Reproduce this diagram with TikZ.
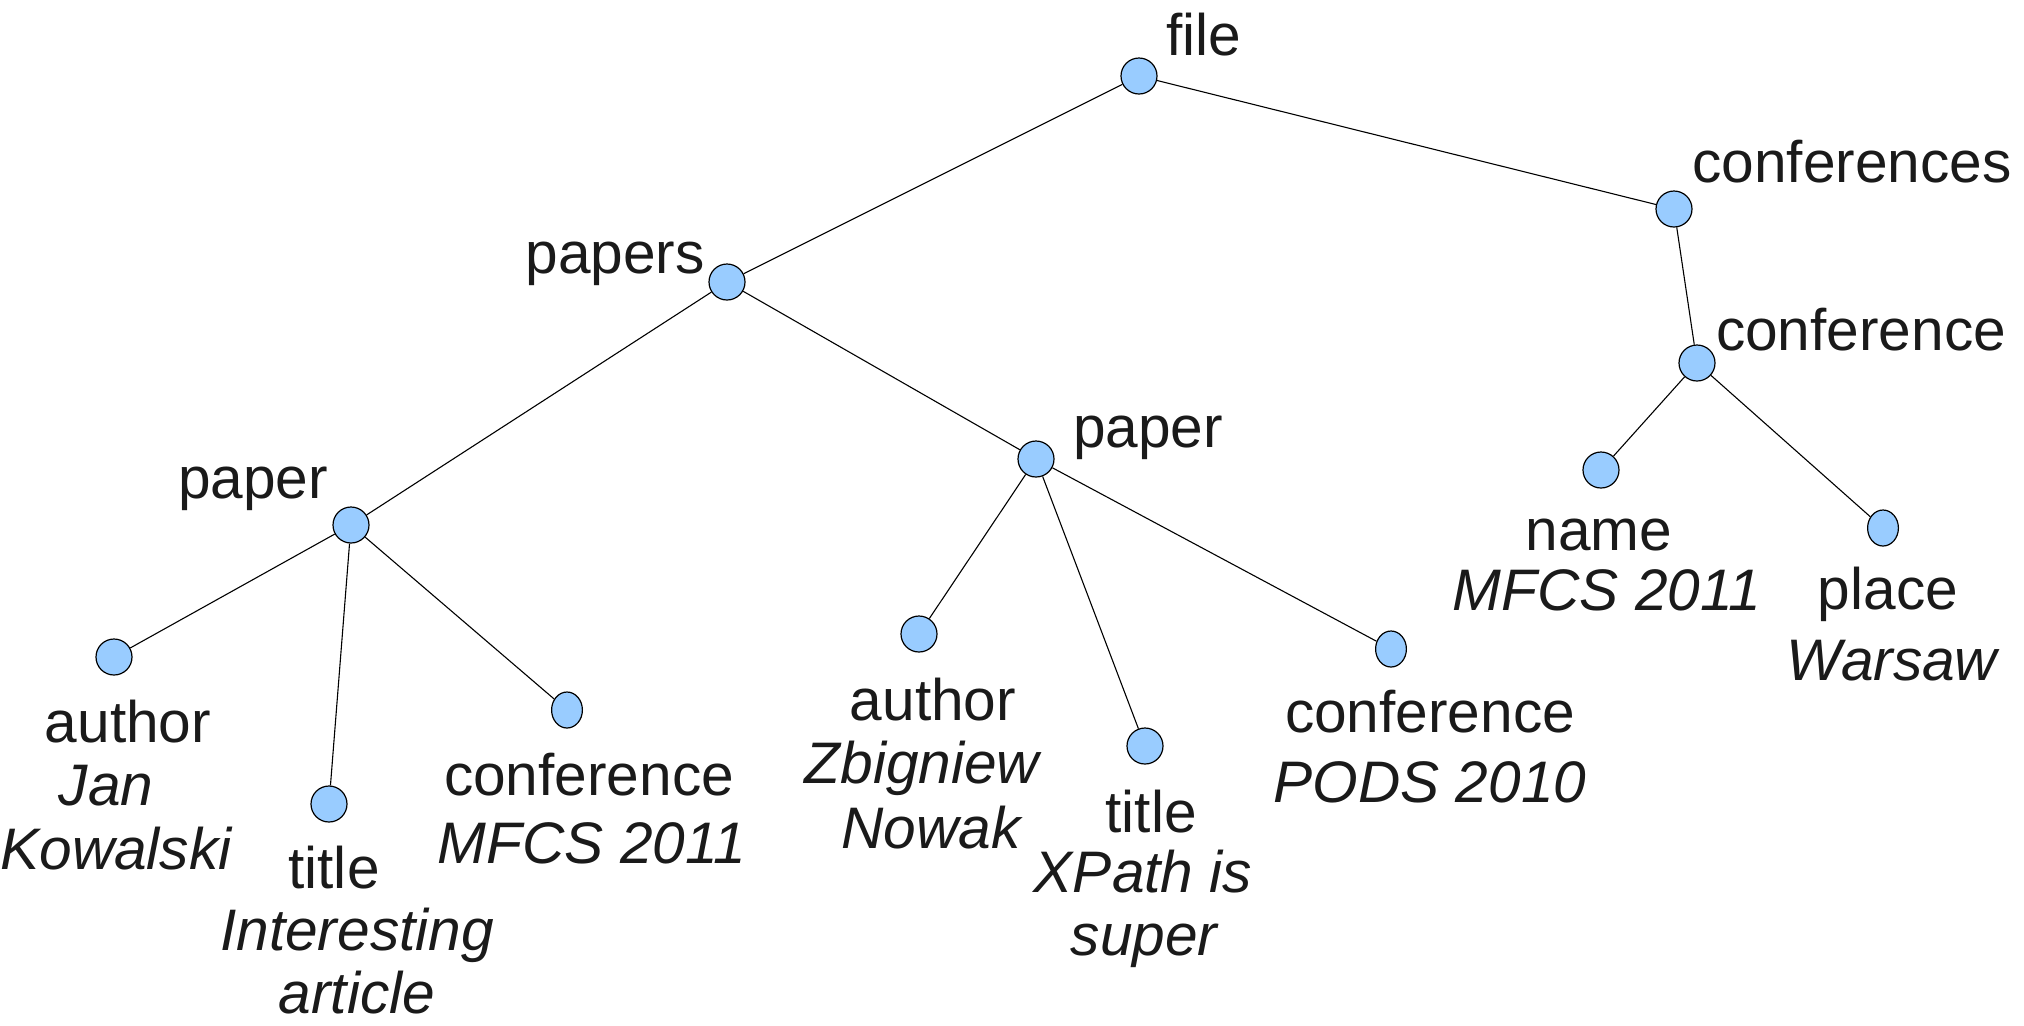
\documentclass[tikz,border=0pt]{standalone}
\usepackage{fontspec}
\setmainfont{Liberation Sans}
\usetikzlibrary{shapes.geometric}
\definecolor{nodefill}{HTML}{99CCFF}
\definecolor{txt}{HTML}{1A1A1A}
\begin{document}
\begin{tikzpicture}[x=0.5pt,y=-0.5pt,
  vtx/.style={circle,draw=black,fill=nodefill,line width=0.6pt,inner sep=0pt,minimum size=18pt},
  vtxe/.style={ellipse,draw=black,fill=nodefill,line width=0.6pt,inner sep=0pt,minimum width=15.4pt,minimum height=18pt},
  edge/.style={draw=black,line width=0.55pt},
  tag/.style={anchor=base,inner sep=0pt,text=txt,font=\fontsize{29.3}{32}\selectfont},
  val/.style={tag,font=\fontsize{29.3}{32}\selectfont\itshape}]
\useasboundingbox (0,0) rectangle (2024,1025);
% vertices
\node[vtx] (file) at (1139,76) {};
\node[vtx] (confs) at (1674,209) {};
\node[vtx] (papers) at (727,282) {};
\node[vtx] (confR) at (1697,363) {};
\node[vtx] (paperL) at (351,525) {};
\node[vtx] (paperM) at (1036,459) {};
\node[vtx] (name) at (1601,470) {};
\node[vtxe] (place) at (1883,528) {};
\node[vtx] (authorL) at (114,657) {};
\node[vtx] (titleL) at (329,804) {};
\node[vtxe] (confL) at (567,710) {};
\node[vtx] (authorM) at (919,634) {};
\node[vtx] (titleM) at (1145,746) {};
\node[vtxe] (confM) at (1391,649) {};
% edges
\path[edge] (file) -- (papers);
\path[edge] (file) -- (confs);
\path[edge] (papers) -- (paperL);
\path[edge] (papers) -- (paperM);
\path[edge] (paperL) -- (authorL);
\path[edge] (paperL) -- (titleL);
\path[edge] (paperL) -- (confL);
\path[edge] (paperM) -- (authorM);
\path[edge] (paperM) -- (titleM);
\path[edge] (paperM) -- (confM);
\path[edge] (confs) -- (confR);
\path[edge] (confR) -- (name);
\path[edge] (confR) -- (place);
% labels
\node[tag] (tFile) at (1204,55) {file};
\node[tag] (tConfs) at (1852,182) {conferences};
\node[tag] (tPapers) at (615,273) {papers};
\node[tag] (tConfR) at (1861,350) {conference};
\node[tag] (tPaperM) at (1148,447) {paper};
\node[tag] (tPaperL) at (253,498) {paper};
\node[tag] (tName) at (1599,550) {name};
\node[val] (vName) at (1607,610) {MFCS 2011};
\node[tag] (tPlace) at (1888,609) {place};
\node[val] (vPlace) at (1892,680) {Warsaw};
\node[tag] (tAuthorL) at (128,742) {author};
\node[val] (vAuthorL1) at (106,805) {Jan};
\node[val] (vAuthorL2) at (116,869) {Kowalski};
\node[tag] (tTitleL) at (334,888) {title};
\node[val] (vTitleL1) at (357,950) {Interesting};
\node[val] (vTitleL2) at (357,1013) {article};
\node[tag] (tConfL) at (589,795) {conference};
\node[val] (vConfL) at (592,863) {MFCS 2011};
\node[tag] (tAuthorM) at (933,720) {author};
\node[val] (vAuthorM1) at (922,783) {Zbigniew};
\node[val] (vAuthorM2) at (931,848) {Nowak};
\node[tag] (tTitleM) at (1151,832) {title};
\node[val] (vTitleM1) at (1143,892) {XPath is};
\node[val] (vTitleM2) at (1144,955) {super};
\node[tag] (tConfM) at (1430,732) {conference};
\node[val] (vConfM) at (1430,802) {PODS 2010};
\end{tikzpicture}
\end{document}
